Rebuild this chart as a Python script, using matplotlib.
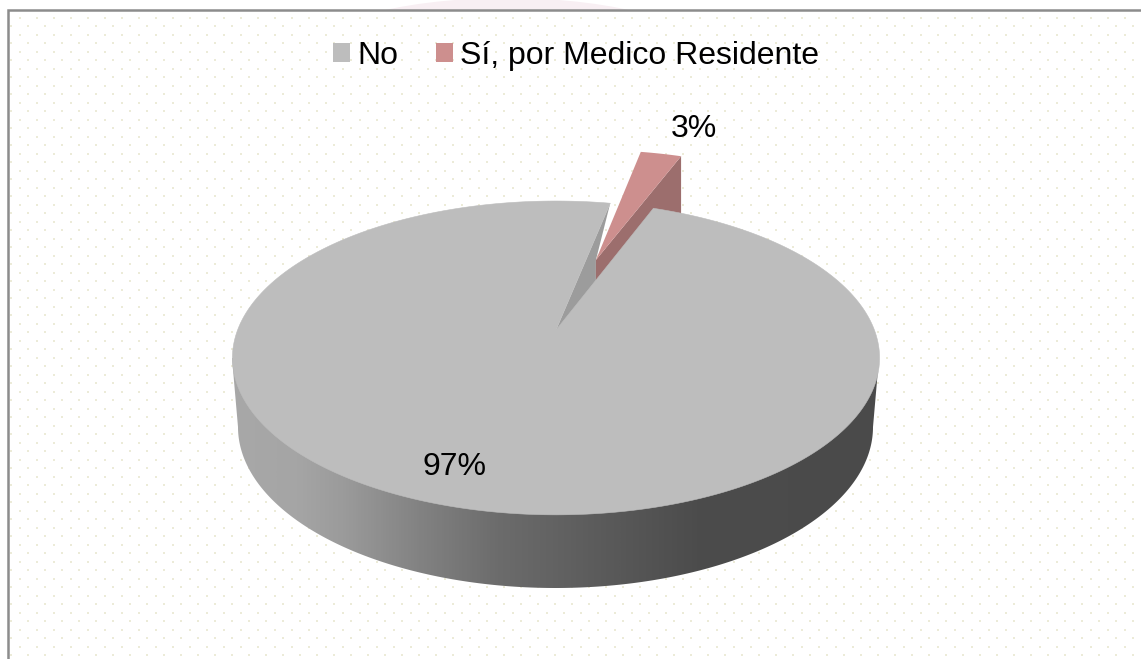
import numpy as np
import matplotlib
matplotlib.use("Agg")
import matplotlib.pyplot as plt
from matplotlib.patches import Polygon, Rectangle, Ellipse, PathPatch
from matplotlib.path import Path
from matplotlib.colors import LinearSegmentedColormap

# --- data ---
categories = ["No", "Sí, por Medico Residente"]
values = [97.4, 2.6]
value_labels = ["97%", "3%"]
colors = ["#bdbdbd", "#cd8f8e"]
wall_colors = ["#9c9c9c", "#9c6e6d"]

# --- layout (pixel space of the figure) ---
W, H = 1141, 659
CX, CY0 = 556.0, 330.0        # projected pie centre
R, A_Y, K = 318.4, 93.2, -0.178   # perspective projection
START = 20.9                  # clockwise from 12 o'clock
EXPLODE = 0.52                # explosion of the small slice
DROP = 70                     # wall drop in pixels
BOT_CY, BOT_A, BOT_B = 427, 317.5, 161
TOP_CY, TOP_A, TOP_B = 358, 323.5, 157

def project(u, v):
    d = 1 + K * v
    return CX + R * u / d, (A_Y * v + CY0) / d

def rim(a0, a1, n=400, off=(0, 0)):
    th = np.radians(np.linspace(a0, a1, n))
    return np.column_stack(project(off[0] + np.sin(th), off[1] - np.cos(th)))

plt.rcParams["font.family"] = ["Liberation Sans", "DejaVu Sans"]
fig = plt.figure(figsize=(W / 100, H / 100), dpi=100)
ax = fig.add_axes([0, 0, 1, 1])
ax.set_xlim(0, W)
ax.set_ylim(H, 0)
ax.axis("off")

# faint watermark showing above the frame
ax.add_patch(Ellipse((507, 60), 412, 124, color="#f8eff3", lw=0, zorder=0))
ax.add_patch(Rectangle((8, 10), W, H, color="white", lw=0, zorder=0.5))

# dotted background texture
xa, ya = np.meshgrid(np.arange(20, W, 17.0), np.arange(17.7, H, 17.0))
xb, yb = np.meshgrid(np.arange(11.3, W, 17.0), np.arange(26, H, 17.0))
ax.scatter(xa.ravel(), ya.ravel(), s=4.5, marker="s", color="#ecebd8", lw=0, zorder=1)
ax.scatter(xb.ravel(), yb.ravel(), s=1.6, marker="s", color="#ecebd8", lw=0, zorder=1)

# frame
ax.plot([8, 8, W], [H, 10, 10], color="#8c8c8c", lw=1.8, zorder=2,
        solid_joinstyle="miter")

# slice angles from the values
fr = np.array(values) / sum(values) * 360
a_no = (START, START + fr[0])
a_si = (START + fr[0], START + fr[0] + fr[1])
mid = np.radians(a_si[0] + fr[1] / 2 - 1.0)
off = (EXPLODE * np.sin(mid), -EXPLODE * np.cos(mid))

centre = np.array(project(0, 0))
apex = np.array(project(*off))
rim_left = rim(a_no[1], a_no[1], n=1)[0]
tips = rim(a_si[0], a_si[1], n=30, off=off)
tip_right = tips[-1]
down = np.array([0, DROP])

# extruded side with horizontal gradient
th = np.radians(np.linspace(180, 0, 300))
side = np.vstack([[CX - 0.5 - TOP_A, TOP_CY],
                  np.column_stack([CX - 0.5 + BOT_A * np.cos(th), BOT_CY + BOT_B * np.sin(th)]),
                  [CX - 0.5 + TOP_A, TOP_CY]])
side_path = Path(np.vstack([side, side[0]]), closed=True)
stops = [(0.0, "#a8a8a8"), (0.10, "#a5a5a5"), (0.17, "#9b9b9b"), (0.29, "#828282"),
         (0.41, "#6c6c6c"), (0.57, "#5b5b5b"), (0.72, "#4c4c4c"), (1.0, "#4a4a4a")]
cmap = LinearSegmentedColormap.from_list("side", stops)
im = ax.imshow(np.linspace(0, 1, 512)[None, :], cmap=cmap, aspect="auto",
               extent=(232, 879, 600, 350), zorder=3, vmin=0, vmax=1)
im.set_clip_path(PathPatch(side_path, transform=ax.transData))
ax.set_xlim(0, W)
ax.set_ylim(H, 0)

# cut faces
ax.add_patch(Polygon([centre, rim_left, apex, apex + down], color=wall_colors[0], lw=0, zorder=4))
ax.add_patch(Polygon([apex, tip_right, tip_right + down, apex + down],
                     color=wall_colors[1], lw=0, zorder=5))

# small slice top
ax.add_patch(Polygon(np.vstack([apex, tips]), color=colors[1], lw=0, zorder=6))

# large slice top
ax.add_patch(Polygon(np.vstack([centre, rim(*a_no)]), facecolor=colors[0],
                     edgecolor=colors[0], lw=0.4, zorder=7))

# value labels
ax.text(454.5, 467, value_labels[0], fontsize=23, ha="center", va="center", color="black", zorder=8)
ax.text(693.5, 129, value_labels[1], fontsize=23, ha="center", va="center", color="black", zorder=8)

# legend
handles = [Rectangle((0, 0), 1, 1, color=c, lw=0) for c in colors]
ax.legend(handles, categories, ncol=2, frameon=False, fontsize=23,
          loc="center", bbox_to_anchor=(576 / W, 1 - 56 / H),
          handlelength=0.54, handleheight=0.54, handletextpad=0.22, columnspacing=1.19,
          borderpad=0, borderaxespad=0).set_zorder(8)

fig.savefig("out.png", dpi=100)
